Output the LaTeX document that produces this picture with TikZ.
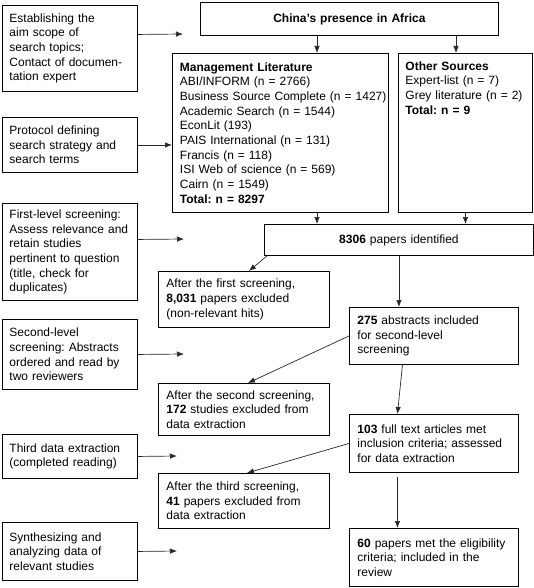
\documentclass[tikz,border=0pt]{standalone}
\usepackage{fontspec}
\setmainfont{Liberation Sans}
\usetikzlibrary{arrows.meta}
\frenchspacing

\begin{document}
\begin{tikzpicture}[x=1pt,y=-1pt,
    stepbox/.style={draw,line width=0.9pt,anchor=north west,align=left,
      inner xsep=7pt,inner ysep=0pt,font=\fontsize{12}{14.7}\selectfont},
    leftbox/.style={stepbox,text width=121pt},
    outbox/.style={stepbox,inner xsep=8pt,text width=155pt},
    inbox/.style={stepbox,inner xsep=8pt,text width=153pt},
    arr/.style={-{Latex[length=7pt,width=5.5pt]},line width=0.7pt,black!85}]
  \useasboundingbox (0,0) rectangle (534,588);

  \node[leftbox,minimum height=86pt] (s1) at (2,5)
    {Establishing the\\aim scope of\\search topics;\\Contact of documen-\\tation expert};
  \node[leftbox,minimum height=55pt] (s2) at (2,117)
    {Protocol defining\\search strategy and\\search terms};
  \node[leftbox,minimum height=97pt] (s3) at (2,203)
    {First-level screening:\\Assess relevance and\\retain studies\\pertinent to question\\(title, check for\\duplicates)};
  \node[leftbox,minimum height=70pt] (s4) at (2,319)
    {Second-level\\screening: Abstracts\\ordered and read by\\two reviewers};
  \node[leftbox,minimum height=44pt] (s5) at (2,434)
    {Third data extraction\\(completed reading)};
  \node[leftbox,minimum height=58pt] (s6) at (2,522)
    {Synthesizing and\\analyzing data of\\relevant studies};

  \node[stepbox,align=center,text width=284pt,minimum height=33pt] (china) at (200,2)
    {\textbf{China's presence in Africa}};
  \node[stepbox,inner xsep=7.5pt,text width=201pt,minimum height=159pt] (mgmt) at (172,53)
    {\textbf{Management Literature}\\
     ABI/INFORM (n = 2766)\\
     \mbox{Business Source Complete (n = 1427)}\\
     Academic Search (n = 1544)\\
     EconLit (193)\\
     PAIS International (n = 131)\\
     Francis (n = 118)\\
     ISI Web of science (n = 569)\\
     Cairn (n = 1549)\\
     \textbf{Total: n = 8297}};
  \node[stepbox,text width=120pt,minimum height=159pt] (other) at (398,53)
    {\parbox[t][143pt][t]{120pt}{\raggedright
     \textbf{Other Sources}\\
     Expert-list (n = 7)\\
     Grey literature (n = 2)\\
     \textbf{Total: n = 9}}};
  \node[stepbox,align=center,text width=255pt,minimum height=31pt] (ident) at (264,224)
    {\textbf{8306} papers identified};

  \node[outbox,minimum height=56pt] (excl1) at (158,271)
    {After the first screening,\\\textbf{8,031} papers excluded\\(non-relevant hits)};
  \node[inbox,minimum height=57pt] (abs) at (349,307)
    {\textbf{275} abstracts included\\for second-level\\screening};
  \node[outbox,minimum height=52pt] (excl2) at (158,383)
    {After the second screening,\\\textbf{172} studies excluded from\\data extraction};
  \node[inbox,minimum height=58pt] (full) at (349,414)
    {\textbf{103} full text articles met\\inclusion criteria; assessed\\for data extraction};
  \node[outbox,minimum height=55pt] (excl3) at (158,473)
    {After the third screening,\\\textbf{41} papers excluded from\\data extraction};
  \node[inbox,minimum height=58pt] (final) at (349,528)
    {\textbf{60} papers met the eligibility\\criteria; included in the\\review};

  \coordinate (a1) at (183,34);
  \coordinate (a3) at (184,239);
  \coordinate (a4) at (184,354);
  \coordinate (a5) at (177,456);
  \coordinate (a6) at (177,551);
  \coordinate (c1) at (317,0);
  \coordinate (c2) at (456,0);

  \draw[arr] ([yshift=14pt]s1.east) -- (a1);
  \draw[arr] (s2.east) -- (s2.east -| mgmt.west);
  \draw[arr] ([yshift=12.5pt]s3.east) -- (a3);
  \draw[arr] (s4.east) -- (a4);
  \draw[arr] (s5.east) -- (a5);
  \draw[arr] (s6.east) -- (a6);

  \draw[arr] (china.south -| c1) -- (mgmt.north -| c1);
  \draw[arr] (china.south -| c2) -- (other.north -| c2);
  \draw[arr] (mgmt.south -| c1) -- (ident.north -| c1);
  \draw[arr] (other.south) -- (ident.north -| other.south);
  \draw[arr] ([xshift=3pt]ident.south west) -- ([xshift=5pt]excl1.north);
  \draw[arr] (ident.south) -- (ident.south |- abs.north);
  \draw[arr] (abs.west) -- ([xshift=4pt]excl2.north);
  \draw[arr] ([xshift=-31.5pt]abs.south) -- ([xshift=-36.5pt]full.north);
  \draw[arr] (full.west) -- ([xshift=3pt]excl3.north);
  \draw[arr] ([xshift=-36.5pt,yshift=-4pt]full.south) -- ([xshift=-36.5pt]final.north);
\end{tikzpicture}
\end{document}
